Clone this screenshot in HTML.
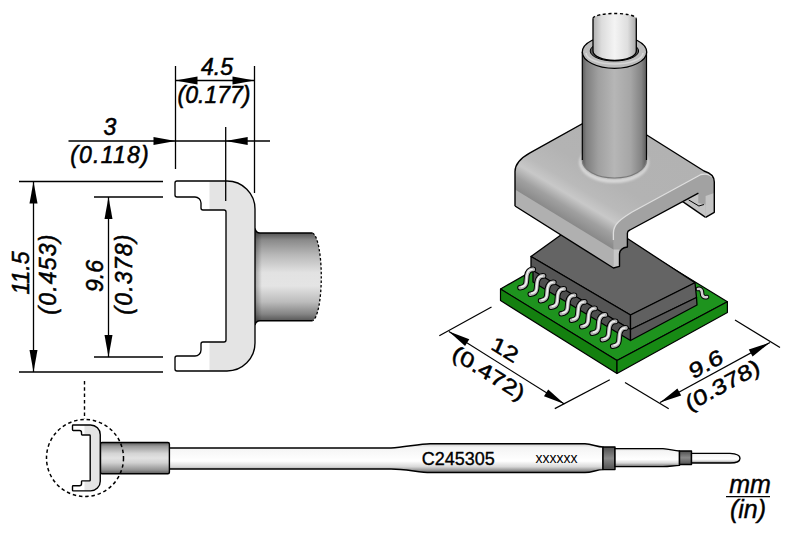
<!DOCTYPE html>
<html><head><meta charset="utf-8">
<style>
html,body{margin:0;padding:0;background:#fff;width:800px;height:533px;overflow:hidden}
svg{display:block}
text{font-family:"Liberation Sans",sans-serif;fill:#000}
.it{font-style:italic}
</style></head><body>
<svg width="800" height="533" viewBox="0 0 800 533">
<defs>
<linearGradient id="cylL" gradientUnits="userSpaceOnUse" x1="0" y1="233" x2="0" y2="321">
<stop offset="0" stop-color="#555"/><stop offset="0.08" stop-color="#8a8a8a"/><stop offset="0.25" stop-color="#b8b8b8"/><stop offset="0.45" stop-color="#e2e2e2"/><stop offset="0.6" stop-color="#e4e4e4"/><stop offset="0.78" stop-color="#bdbdbd"/><stop offset="0.92" stop-color="#858585"/><stop offset="1" stop-color="#555"/>
</linearGradient>
<linearGradient id="cylLx" x1="0" y1="0" x2="1" y2="0">
<stop offset="0" stop-color="#000" stop-opacity="0.3"/><stop offset="0.12" stop-color="#000" stop-opacity="0"/>
</linearGradient>

<linearGradient id="slv" x1="0" y1="0" x2="1" y2="0">
<stop offset="0" stop-color="#5a5a5a"/><stop offset="0.06" stop-color="#7e7e7e"/><stop offset="0.25" stop-color="#a0a0a0"/><stop offset="0.5" stop-color="#b6b6b6"/><stop offset="0.75" stop-color="#a6a6a6"/><stop offset="0.92" stop-color="#848484"/><stop offset="1" stop-color="#5c5c5c"/>
</linearGradient>
<linearGradient id="inner" x1="0" y1="0" x2="1" y2="0">
<stop offset="0" stop-color="#b0b0b0"/><stop offset="0.2" stop-color="#dcdcdc"/><stop offset="0.5" stop-color="#f4f4f4"/><stop offset="0.8" stop-color="#dedede"/><stop offset="1" stop-color="#a8a8a8"/>
</linearGradient>

<linearGradient id="brk" gradientUnits="userSpaceOnUse" x1="515" y1="189.5" x2="574" y2="91">
<stop offset="0" stop-color="#8a8a8a"/><stop offset="0.1" stop-color="#a0a0a0"/><stop offset="0.2" stop-color="#c8c8c8"/><stop offset="0.3" stop-color="#bababa"/><stop offset="0.5" stop-color="#b3b3b3"/><stop offset="1" stop-color="#b2b2b2"/>
</linearGradient>
<linearGradient id="brkEnd" gradientUnits="userSpaceOnUse" x1="664" y1="225" x2="655" y2="205">
<stop offset="0" stop-color="#9a9a9a"/><stop offset="1" stop-color="#a8a8a8"/>
</linearGradient>
<radialGradient id="filG" cx="0.5" cy="0.45" r="0.5">
<stop offset="0" stop-color="#a8a8a8"/><stop offset="0.75" stop-color="#bcbcbc"/><stop offset="0.9" stop-color="#d8d8d8"/><stop offset="1" stop-color="#b8b8b8" stop-opacity="0"/>
</radialGradient>
<filter id="soft" x="-10%" y="-10%" width="120%" height="120%"><feGaussianBlur stdDeviation="0.8"/></filter>
</defs>

<!-- ============ LEFT 2D VIEW ============ -->
<g id="left" stroke="#000" fill="none" stroke-width="1.3">
  <!-- extension lines -->
  <line x1="175.5" y1="66" x2="175.5" y2="169"/>
  <line x1="254.5" y1="66" x2="254.5" y2="193"/>
  <line x1="225.7" y1="127" x2="225.7" y2="201"/>
  <line x1="19" y1="181.5" x2="163" y2="181.5"/>
  <line x1="94" y1="197" x2="163" y2="197"/>
  <line x1="19" y1="372" x2="163" y2="372"/>
  <line x1="94" y1="357" x2="163" y2="357"/>
  <!-- dim lines -->
  <line x1="175.5" y1="80.5" x2="254.5" y2="80.5"/>
  <line x1="68.5" y1="141" x2="270" y2="141"/>
  <line x1="33.5" y1="181.5" x2="33.5" y2="372"/>
  <line x1="108.5" y1="197" x2="108.5" y2="357"/>
</g>
<g id="arrows" fill="#000">
  <path d="M175.5,80.5 L197.5,76.5 L197.5,84.5 Z"/>
  <path d="M254.5,80.5 L232.5,76.5 L232.5,84.5 Z"/>
  <path d="M175.5,141 L153.5,137 L153.5,145 Z"/>
  <path d="M225.7,141 L247.7,137 L247.7,145 Z"/>
  <path d="M33.5,181.5 L29.5,203.5 L37.5,203.5 Z"/>
  <path d="M33.5,372 L29.5,350 L37.5,350 Z"/>
  <path d="M108.5,197 L104.5,219 L112.5,219 Z"/>
  <path d="M108.5,357 L104.5,335 L112.5,335 Z"/>
</g>
<g class="it" font-size="23" stroke="#000" stroke-width="0.55">
  <text x="217" y="75" text-anchor="middle">4.5</text>
  <text x="214" y="103" text-anchor="middle">(0.177)</text>
  <text x="110" y="135" text-anchor="middle">3</text>
  <text x="110" y="163" text-anchor="middle" letter-spacing="1.2">(0.118)</text>
  <text transform="translate(28.5,273) rotate(-90)" text-anchor="middle">11.5</text>
  <text transform="translate(55.5,274) rotate(-90)" text-anchor="middle" letter-spacing="1.2">(0.453)</text>
  <text transform="translate(103,276) rotate(-90)" text-anchor="middle">9.6</text>
  <text transform="translate(131.5,274) rotate(-90)" text-anchor="middle" letter-spacing="1.2">(0.378)</text>
</g>
<!-- profile -->
<g>
  <path d="M255,228.5 Q256,233 260,233 H312.5 A9.5,44 0 0 1 312.5,320.75 H260 Q256,320.75 255,325 Z" fill="url(#cylL)"/>
  <path d="M255,228.5 Q256,233 260,233 H312.5 V320.75 H260 Q256,320.75 255,325 Z" fill="url(#cylLx)"/>
  <path d="M255,228.5 Q256,233 260,233 H312.5 M255,325 Q256,320.75 260,320.75 H312.5" fill="none" stroke="#000" stroke-width="1.4"/>
    <path d="M312.5,233 A9.5,44 0 0 1 312.5,320.75" fill="none" stroke="#000" stroke-width="1.3" stroke-dasharray="2.5,2"/>
  <path d="M177,181 H227 A28,28 0 0 1 255,209 V343 A28,28 0 0 1 227,371 H177 Q175,371 175,369 V358 Q175,356 177,356 H195 A6,6 0 0 0 201,350 V344 Q201,342 203,342 H224 Q226,342 226,340 V212 Q226,210 224,210 H203 Q201,210 201,208 V203 A6,6 0 0 0 195,197 H177 Q175,197 175,195 V183 Q175,181 177,181 Z" fill="#fff" stroke="none"/>
  <path d="M209.5,181 H227 A28,28 0 0 1 255,209 V343 A28,28 0 0 1 227,371 H209.5 V342 H224 Q226,342 226,340 V212 Q226,210 224,210 H209.5 Z" fill="#e4e4e4" stroke="none"/>
  <path d="M177,181 H227 A28,28 0 0 1 255,209 V343 A28,28 0 0 1 227,371 H177 Q175,371 175,369 V358 Q175,356 177,356 H195 A6,6 0 0 0 201,350 V344 Q201,342 203,342 H224 Q226,342 226,340 V212 Q226,210 224,210 H203 Q201,210 201,208 V203 A6,6 0 0 0 195,197 H177 Q175,197 175,195 V183 Q175,181 177,181 Z" fill="none" stroke="#000" stroke-width="1.35"/>
  <line x1="225.7" y1="181" x2="225.7" y2="201" stroke="#000" stroke-width="1.3"/>
</g>
<line x1="84.5" y1="381" x2="84.5" y2="419" stroke="#000" stroke-width="1.4" stroke-dasharray="3.5,2.8"/>


<!-- ============ 3D VIEW ============ -->
<g id="pcb" stroke="#000" stroke-width="1.2" stroke-linejoin="round">
  <path d="M500.5,289 L607,228 L727.4,301.7 L617,360.5 Z" fill="#1e931e"/>
  <path d="M500.5,289 L617,360.5 L617,373.5 L500.5,300.5 Z" fill="#14800f"/>
  <path d="M617,360.5 L727.4,301.7 L727.4,312.5 L617,373.5 Z" fill="#178a14"/>
</g>
<g id="chip" stroke="#000" stroke-width="1.3" stroke-linejoin="round">
  <path d="M531,256.5 L590,214 L695,282.75 L630.5,315 Z" fill="#646464"/>
  <path d="M531,256.5 L630.5,315 L630.5,329.5 L531,270.5 Z" fill="#555"/>
  <path d="M630.5,315 L695,282.75 L696.5,297.5 L630.5,329.5 Z" fill="#606060"/>
  <path d="M533,270.5 L630.5,329.5 L630.5,340.5 L533,282 Z" fill="#4e4e4e"/>
  <path d="M630.5,329.5 L696.5,297.5 L697,305 L630.5,340.5 Z" fill="#585858"/>
</g>
<g id="leads" fill="none" stroke-linejoin="round">
  <path d="M533.3,269.4 c-3.5,-0.5 -6,2.5 -6.5,6.5 l-0.6,6.5 c-0.4,3.5 -2.5,5 -6.2,5.3 M543.6,275.9 c-3.5,-0.5 -6,2.5 -6.5,6.5 l-0.6,6.5 c-0.4,3.5 -2.5,5 -6.2,5.3 M553.9,282.4 c-3.5,-0.5 -6,2.5 -6.5,6.5 l-0.6,6.5 c-0.4,3.5 -2.5,5 -6.2,5.3 M564.2,288.9 c-3.5,-0.5 -6,2.5 -6.5,6.5 l-0.6,6.5 c-0.4,3.5 -2.5,5 -6.2,5.3 M574.5,295.4 c-3.5,-0.5 -6,2.5 -6.5,6.5 l-0.6,6.5 c-0.4,3.5 -2.5,5 -6.2,5.3 M584.8,301.9 c-3.5,-0.5 -6,2.5 -6.5,6.5 l-0.6,6.5 c-0.4,3.5 -2.5,5 -6.2,5.3 M595.1,308.4 c-3.5,-0.5 -6,2.5 -6.5,6.5 l-0.6,6.5 c-0.4,3.5 -2.5,5 -6.2,5.3 M605.4,314.9 c-3.5,-0.5 -6,2.5 -6.5,6.5 l-0.6,6.5 c-0.4,3.5 -2.5,5 -6.2,5.3 M615.7,321.4 c-3.5,-0.5 -6,2.5 -6.5,6.5 l-0.6,6.5 c-0.4,3.5 -2.5,5 -6.2,5.3 M626.0,327.9 c-3.5,-0.5 -6,2.5 -6.5,6.5 l-0.6,6.5 c-0.4,3.5 -2.5,5 -6.2,5.3" stroke="#000" stroke-width="5.6" stroke-linecap="round"/>
  <path d="M533.3,269.4 c-3.5,-0.5 -6,2.5 -6.5,6.5 l-0.6,6.5 c-0.4,3.5 -2.5,5 -6.2,5.3 M543.6,275.9 c-3.5,-0.5 -6,2.5 -6.5,6.5 l-0.6,6.5 c-0.4,3.5 -2.5,5 -6.2,5.3 M553.9,282.4 c-3.5,-0.5 -6,2.5 -6.5,6.5 l-0.6,6.5 c-0.4,3.5 -2.5,5 -6.2,5.3 M564.2,288.9 c-3.5,-0.5 -6,2.5 -6.5,6.5 l-0.6,6.5 c-0.4,3.5 -2.5,5 -6.2,5.3 M574.5,295.4 c-3.5,-0.5 -6,2.5 -6.5,6.5 l-0.6,6.5 c-0.4,3.5 -2.5,5 -6.2,5.3 M584.8,301.9 c-3.5,-0.5 -6,2.5 -6.5,6.5 l-0.6,6.5 c-0.4,3.5 -2.5,5 -6.2,5.3 M595.1,308.4 c-3.5,-0.5 -6,2.5 -6.5,6.5 l-0.6,6.5 c-0.4,3.5 -2.5,5 -6.2,5.3 M605.4,314.9 c-3.5,-0.5 -6,2.5 -6.5,6.5 l-0.6,6.5 c-0.4,3.5 -2.5,5 -6.2,5.3 M615.7,321.4 c-3.5,-0.5 -6,2.5 -6.5,6.5 l-0.6,6.5 c-0.4,3.5 -2.5,5 -6.2,5.3 M626.0,327.9 c-3.5,-0.5 -6,2.5 -6.5,6.5 l-0.6,6.5 c-0.4,3.5 -2.5,5 -6.2,5.3" stroke="#b4b4b4" stroke-width="3.6" stroke-linecap="round"/>
  <path d="M532.1,269.6 c-3,0 -4.8,2.5 -5.2,5.8 l-0.6,6.5 c-0.3,3 -1.8,4.5 -5,4.8 M542.4,276.1 c-3,0 -4.8,2.5 -5.2,5.8 l-0.6,6.5 c-0.3,3 -1.8,4.5 -5,4.8 M552.7,282.6 c-3,0 -4.8,2.5 -5.2,5.8 l-0.6,6.5 c-0.3,3 -1.8,4.5 -5,4.8 M563.0,289.1 c-3,0 -4.8,2.5 -5.2,5.8 l-0.6,6.5 c-0.3,3 -1.8,4.5 -5,4.8 M573.3,295.6 c-3,0 -4.8,2.5 -5.2,5.8 l-0.6,6.5 c-0.3,3 -1.8,4.5 -5,4.8 M583.6,302.1 c-3,0 -4.8,2.5 -5.2,5.8 l-0.6,6.5 c-0.3,3 -1.8,4.5 -5,4.8 M593.9,308.6 c-3,0 -4.8,2.5 -5.2,5.8 l-0.6,6.5 c-0.3,3 -1.8,4.5 -5,4.8 M604.2,315.1 c-3,0 -4.8,2.5 -5.2,5.8 l-0.6,6.5 c-0.3,3 -1.8,4.5 -5,4.8 M614.5,321.6 c-3,0 -4.8,2.5 -5.2,5.8 l-0.6,6.5 c-0.3,3 -1.8,4.5 -5,4.8 M624.8,328.1 c-3,0 -4.8,2.5 -5.2,5.8 l-0.6,6.5 c-0.3,3 -1.8,4.5 -5,4.8" stroke="#f2f2f2" stroke-width="1.5" stroke-linecap="round"/>
  <path d="M698,289 c3,-1 4,2 4,4 c0,3 2,5 5,4" stroke="#000" stroke-width="4.6" stroke-linecap="round"/>
  <path d="M698,289 c3,-1 4,2 4,4 c0,3 2,5 5,4" stroke="#d0d0d0" stroke-width="2.6" stroke-linecap="round"/>
</g>
<g id="bracket" stroke-linejoin="round">
  <!-- back leg inner face -->
  <path d="M660,210 L698.4,193.2 L705.6,195.8 L705.6,217.4 L682.4,201.4 Z" fill="#c4c4c4" stroke="none"/>
  <path d="M688.6,199.9 L698.9,206 L704,204.5" fill="none" stroke="#000" stroke-width="1"/>
  <path d="M682.4,201.4 L705.6,217.4" fill="none" stroke="#000" stroke-width="1.3"/>
  <!-- main silhouette fill -->
  <path d="M515,206 L515,171.5 Q515,161.1 530,152.8 L607,110 L704,171 Q714.3,174 714.3,182 L714.3,212.3 L705.6,217.4 L705.6,204.5 L698.4,203 L698.4,193.2 L629.9,230 Q627.4,231 627.4,233 L627.4,247 Q620,248 619.5,253.8 L619.5,266.3 L613.4,268 Z" fill="url(#brk)"/>
  <!-- flat lower front face -->
  <path d="M515,189.5 L613.4,249.4 L613.4,268 L515,206 Z" fill="#b0b0b0"/>
  <!-- end face -->
  <path d="M613.4,268 L613.4,233 C613.4,224 621,219 631.7,212.3 L701,174.5 Q714.3,172 714.3,182 L714.3,212.3 L705.6,217.4 L705.6,204.5 L698.4,203 L698.4,193.2 L629.9,230 Q627.4,231 627.4,233 L627.4,247 Q620,248 619.5,253.8 L619.5,266.3 Z" fill="#a2a2a2"/>
  <path d="M613.4,249.5 L619.5,249.5 L619.5,266.3 L613.4,268 Z" fill="#c6c6c6"/>
  <path d="M705.6,196 L714.3,193 L714.3,212.3 L705.6,217.4 Z" fill="#c4c4c4"/>
  <!-- highlight of end rounding -->
  <path d="M613.4,240 L613.4,233 C613.4,224 621,219 631.7,212.3 L701,174.5 Q709,173 712,177" fill="none" stroke="#dedede" stroke-width="1.3"/>
  <!-- outline -->
  <path d="M515,206 L515,171.5 Q515,161.1 530,152.8 L607,110 L704,171 Q714.3,174 714.3,182 L714.3,212.3 L705.6,217.4 M698.4,193.2 L629.9,230 Q627.4,231 627.4,233 L627.4,247 Q620,248 619.5,253.8 L619.5,266.3 L613.4,268 L515,206" fill="none" stroke="#000" stroke-width="1.4"/>
</g>
<g id="sleeve">
  <!-- fillet ring -->
  <ellipse cx="614" cy="162.5" rx="35" ry="20.5" fill="#d8d8d8" filter="url(#soft)"/>
  <ellipse cx="614.3" cy="160.5" rx="33" ry="18.5" fill="#a8a8a8" filter="url(#soft)"/>
  <!-- sleeve body -->
  <path d="M582.3,52 L582.3,160 A32.1,18 0 0 0 646.5,160 L646.5,52 Z" fill="url(#slv)"/>
  <path d="M582.3,160 A32.1,18 0 0 0 646.5,160" fill="none" stroke="#7a7a7a" stroke-width="1.2"/>
  <path d="M582.3,52 L582.3,160 M646.5,160 L646.5,52" fill="none" stroke="#000" stroke-width="1.2"/>
  <!-- top ring -->
  <ellipse cx="614.5" cy="52" rx="32.2" ry="16.3" fill="#bcbcbc" stroke="#000" stroke-width="1.3"/>
  <path d="M586,53 A28.5,11 0 0 0 643,53" fill="none" stroke="#d6d6d6" stroke-width="1.6"/>
  <ellipse cx="614.4" cy="51" rx="24.2" ry="10" fill="#5a5a5a" stroke="#000" stroke-width="1"/>
  <!-- inner cylinder -->
  <path d="M593,18.5 L593,51 A21.65,9.4 0 0 0 636.3,51 L636.3,18.5 A21.65,5 0 0 0 593,18.5 Z" fill="url(#inner)" stroke="none"/>
  <path d="M593,18.5 L593,51 A21.65,9.4 0 0 0 636.3,51 L636.3,18.5" fill="none" stroke="#000" stroke-width="1.3"/>
  <path d="M593,18.5 A21.65,5 0 0 1 636.3,18.5" fill="none" stroke="#000" stroke-width="1.4" stroke-dasharray="3,2.6"/>
</g>


<!-- 3D dims -->
<g stroke="#000" stroke-width="1.2" fill="none">
  <line x1="439.3" y1="335.8" x2="491.5" y2="306.9"/>
  <line x1="554.8" y1="408.6" x2="609.8" y2="379.8"/>
  <line x1="448.9" y1="331.6" x2="564.4" y2="404"/>
  <line x1="625" y1="382.5" x2="668.75" y2="408.75"/>
  <line x1="735" y1="320" x2="780" y2="347.5"/>
  <line x1="660" y1="402.5" x2="770" y2="342.5"/>
</g>
<g fill="#000">
  <path d="M448.9,331.6 L469.3,339.3 L465.1,346.1 Z"/>
  <path d="M564.4,404 L548.2,389.5 L544,396.3 Z"/>
  <path d="M660,402.5 L677.4,388.4 L681.2,395.4 Z"/>
  <path d="M770,342.5 L752.6,356.6 L748.8,349.6 Z"/>
</g>
<g font-size="26" stroke="#000" stroke-width="0.6">
  <text transform="matrix(0.848,0.53,-0.33,0.73,505,349.5)" text-anchor="middle" y="9">12</text>
  <text transform="matrix(0.848,0.53,-0.33,0.73,488.75,372.9)" text-anchor="middle" y="9">(0.472)</text>
  <text transform="matrix(0.878,-0.478,0.3,0.76,706,364)" text-anchor="middle" y="9">9.6</text>
  <text transform="matrix(0.878,-0.478,0.3,0.76,722.5,385)" text-anchor="middle" y="9">(0.378)</text>
</g>

<!-- ============ SHAFT ============ -->
<defs>
<linearGradient id="shaftG" x1="0" y1="0" x2="0" y2="1">
<stop offset="0" stop-color="#c8c8c8"/><stop offset="0.12" stop-color="#f4f4f4"/><stop offset="0.6" stop-color="#ffffff"/><stop offset="0.8" stop-color="#d8d8d8"/><stop offset="1" stop-color="#6a6a6a"/>
</linearGradient>
<linearGradient id="cylS" x1="0" y1="0" x2="0" y2="1">
<stop offset="0" stop-color="#5a5a5a"/><stop offset="0.12" stop-color="#9a9a9a"/><stop offset="0.35" stop-color="#d4d4d4"/><stop offset="0.5" stop-color="#e2e2e2"/><stop offset="0.65" stop-color="#d0d0d0"/><stop offset="0.88" stop-color="#939393"/><stop offset="1" stop-color="#5a5a5a"/>
</linearGradient>
<linearGradient id="bandG" x1="0" y1="0" x2="0" y2="1">
<stop offset="0" stop-color="#505050"/><stop offset="0.5" stop-color="#8a8a8a"/><stop offset="1" stop-color="#505050"/>
</linearGradient>
</defs>
<g id="shaft" stroke="#000" stroke-width="1.4" stroke-linejoin="round">
  <path d="M168.75,448 L391,448 C405,447 420,444 430,443.8 L585,443.8 C592,444 597,447 603,447 L603,469.6 C597,469.6 592,472.5 585,472.5 L430,472.5 C420,472.5 405,469 391,469 L168.75,469 Z" fill="url(#shaftG)"/>
  <rect x="603" y="447" width="12" height="22.6" fill="url(#bandG)"/>
  <path d="M615,448.6 L663,448.6 C670,449 674,451 679.5,451 L679.5,465.4 C674,465.4 670,466.6 663,466.6 L615,466.6 Z" fill="url(#shaftG)"/>
  <rect x="679.5" y="451" width="12" height="13.5" fill="url(#bandG)"/>
  <path d="M691.5,453.4 L730,453.4 C738,453.8 740,456 740,458.2 C740,460.5 738,463 730,463 L691.5,463 Z" fill="url(#shaftG)"/>
  <rect x="100.5" y="442.5" width="68.9" height="31.25" rx="1.5" fill="url(#cylS)"/>
</g>
<text x="421.7" y="464.5" font-size="18" stroke="#000" stroke-width="0.35">C245305</text>
<text x="535.6" y="462.5" font-size="14">xxxxxx</text>
<!-- small profile -->
<g transform="translate(72.5,425) scale(0.347) translate(-175,-181)">
  <path d="M177,181 H227 A28,28 0 0 1 255,209 V343 A28,28 0 0 1 227,371 H177 Q175,371 175,369 V358 Q175,356 177,356 H195 A6,6 0 0 0 201,350 V344 Q201,342 203,342 H224 Q226,342 226,340 V212 Q226,210 224,210 H203 Q201,210 201,208 V203 A6,6 0 0 0 195,197 H177 Q175,197 175,195 V183 Q175,181 177,181 Z" fill="#fff" stroke="none"/>
  <path d="M209.5,181 H227 A28,28 0 0 1 255,209 V343 A28,28 0 0 1 227,371 H209.5 V342 H224 Q226,342 226,340 V212 Q226,210 224,210 H209.5 Z" fill="#e4e4e4" stroke="none"/>
  <path d="M177,181 H227 A28,28 0 0 1 255,209 V343 A28,28 0 0 1 227,371 H177 Q175,371 175,369 V358 Q175,356 177,356 H195 A6,6 0 0 0 201,350 V344 Q201,342 203,342 H224 Q226,342 226,340 V212 Q226,210 224,210 H203 Q201,210 201,208 V203 A6,6 0 0 0 195,197 H177 Q175,197 175,195 V183 Q175,181 177,181 Z" fill="none" stroke="#000" stroke-width="4"/>
</g>
<circle cx="85" cy="458" r="38.5" fill="none" stroke="#000" stroke-width="1.5" stroke-dasharray="3.5,2.8"/>

<!-- units -->
<g class="it" stroke="#000" stroke-width="0.4">
  <text x="750" y="493" font-size="25" text-anchor="middle">mm</text>
  <line x1="726" y1="496.7" x2="770" y2="496.7" stroke="#000" stroke-width="1.3"/>
  <text x="748" y="518" font-size="25" text-anchor="middle">(in)</text>
</g>

</svg>
</body></html>
